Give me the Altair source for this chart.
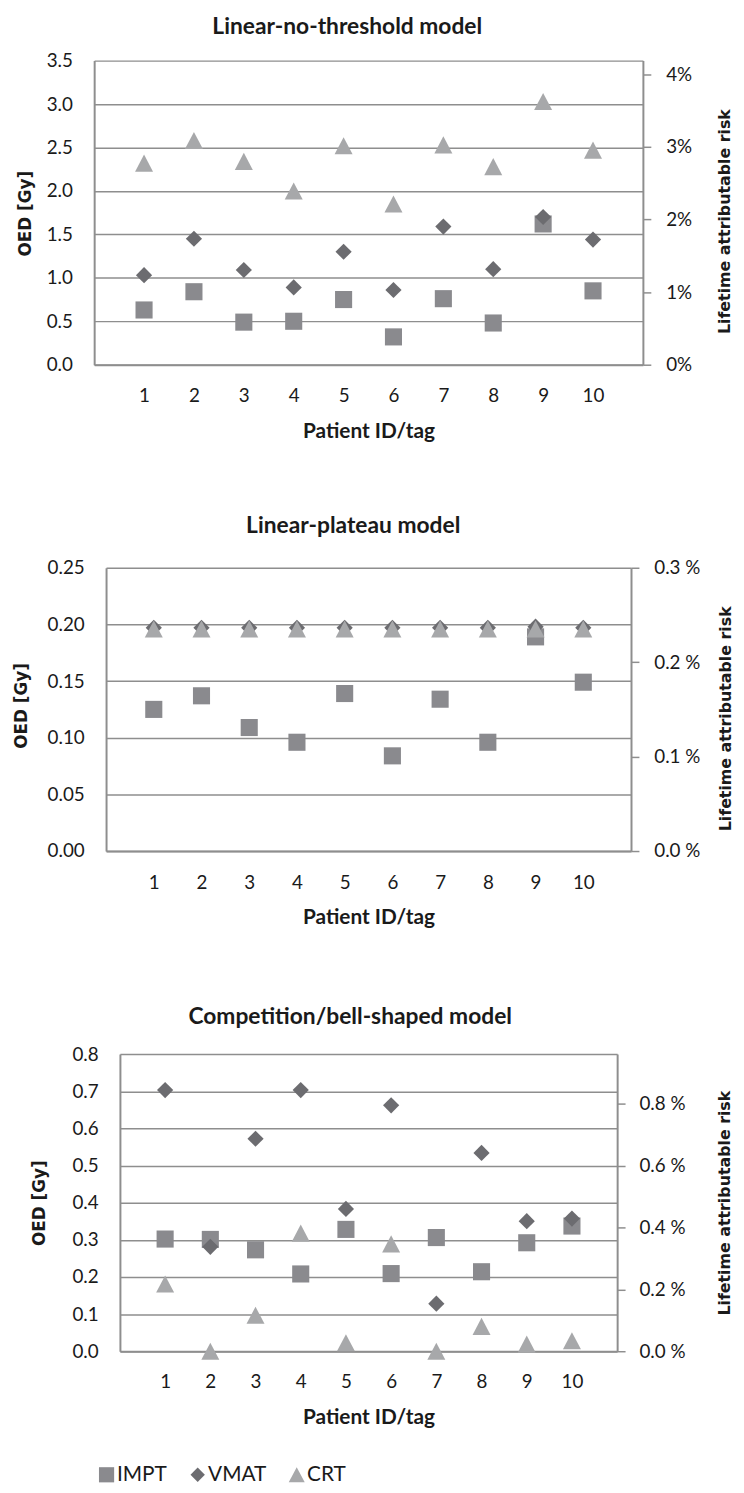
import altair as alt
import pandas as pd

patients = [1, 2, 3, 4, 5, 6, 7, 8, 9, 10]
series_names = ["IMPT", "VMAT", "CRT"]
series_colors = ["#8a8a8e", "#6c6c70", "#a7a8aa"]
series_shapes = [
    "M-0.95,-0.95L0.95,-0.95L0.95,0.95L-0.95,0.95Z",
    "M0,-0.9L0.9,0L0,0.9L-0.9,0Z",
    "M0,-0.95L1,0.95L-1,0.95Z",
]

# Linear-no-threshold model (OED in Gy)
lnt_impt = [0.63, 0.84, 0.49, 0.50, 0.75, 0.32, 0.76, 0.48, 1.62, 0.85]
lnt_vmat = [1.03, 1.45, 1.09, 0.89, 1.30, 0.86, 1.59, 1.10, 1.70, 1.44]
lnt_crt = [2.32, 2.58, 2.34, 2.00, 2.52, 1.85, 2.53, 2.28, 3.03, 2.47]

# Linear-plateau model
lp_impt = [0.125, 0.137, 0.109, 0.096, 0.139, 0.084, 0.134, 0.096, 0.189, 0.149]
lp_vmat = [0.197, 0.197, 0.197, 0.197, 0.197, 0.197, 0.197, 0.197, 0.198, 0.197]
lp_crt = [0.196, 0.196, 0.196, 0.196, 0.196, 0.196, 0.196, 0.196, 0.196, 0.196]

# Competition/bell-shaped model
bell_impt = [0.302, 0.301, 0.273, 0.208, 0.328, 0.209, 0.306, 0.214, 0.292, 0.337]
bell_vmat = [0.703, 0.281, 0.572, 0.703, 0.383, 0.662, 0.128, 0.534, 0.350, 0.357]
bell_crt = [0.181, 0.0, 0.097, 0.318, 0.023, 0.289, 0.0, 0.067, 0.019, 0.028]

# axis tick values
lnt_y_ticks = [0.0, 0.5, 1.0, 1.5, 2.0, 2.5, 3.0, 3.5]
lp_y_ticks = [0.0, 0.05, 0.10, 0.15, 0.20, 0.25]
bell_y_ticks = [0.0, 0.1, 0.2, 0.3, 0.4, 0.5, 0.6, 0.7, 0.8]
lnt_lar_ticks = [0, 1, 2, 3, 4]
lp_lar_ticks = [0.0, 0.1, 0.2, 0.3]
bell_lar_ticks = [0.0, 0.2, 0.4, 0.6, 0.8]

LABEL_FONT = "Lato"
AXIS_TITLE_FONT = "DejaVu Sans"
GRID = "#8e8e8e"
TXT = "#1a1a1a"


def panel(values, title, w, h, y_ticks, y_fmt, lar_ticks, lar_max, lar_expr,
          title_y, title_dx, oed_x, oed_y, lar_x, lar_y, lar_pad,
          x_lab_pad, legend=None):
    rows = []
    for name, vals in zip(series_names, values):
        for p, v in zip(patients, vals):
            rows.append({"patient": p, "value": v, "series": name})
    df = pd.DataFrame(rows)
    x_scale = alt.Scale(domain=[0, 11], nice=False, zero=False)

    x = alt.X(
        "patient:Q",
        scale=x_scale,
        axis=alt.Axis(
            values=patients, format="d", ticks=False, grid=False,
            domainColor=GRID, domainWidth=2,
            labelFont=LABEL_FONT, labelFontSize=19, labelColor=TXT,
            labelPadding=x_lab_pad, labelBaseline="middle",
            title="Patient ID/tag", titleFont=LABEL_FONT, titleFontSize=21,
            titleFontWeight="bold", titleColor=TXT, titleX=w / 2, titleY=73,
            titleAlign="center", titleBaseline="alphabetic",
        ),
    )
    y = alt.Y(
        "value:Q",
        scale=alt.Scale(domain=[0, y_ticks[-1]], nice=False, zero=True),
        axis=alt.Axis(
            values=y_ticks, format=y_fmt, ticks=False, grid=True,
            gridColor=GRID, gridWidth=1.5, domainColor=GRID, domainWidth=2,
            labelFont=LABEL_FONT, labelFontSize=19, labelColor=TXT,
            labelPadding=22,
            title="OED [Gy]", titleFont=AXIS_TITLE_FONT, titleFontSize=17,
            titleFontWeight="bold", titleColor=TXT, titleAngle=270,
            titleX=oed_x, titleY=oed_y, titleAlign="center",
            titleBaseline="middle",
        ),
    )
    color = alt.Color(
        "series:N",
        scale=alt.Scale(domain=series_names, range=series_colors),
        legend=legend,
    )
    shape = alt.Shape(
        "series:N",
        scale=alt.Scale(domain=series_names, range=series_shapes),
        legend=legend,
    )
    pts = alt.Chart(df).mark_point(
        filled=True, opacity=1, size=330, strokeWidth=0
    ).encode(x=x, y=y, color=color, shape=shape)

    lar = alt.Chart(pd.DataFrame({"lar": lar_ticks})).mark_rule(opacity=0).encode(
        y=alt.Y(
            "lar:Q",
            scale=alt.Scale(domain=[0, lar_max], nice=False, zero=True),
            axis=alt.Axis(
                orient="right", values=lar_ticks, labelExpr=lar_expr,
                ticks=True, tickSize=8, tickColor=GRID, tickWidth=1.5,
                grid=False, domainColor=GRID, domainWidth=2,
                labelFont=LABEL_FONT, labelFontSize=19, labelColor=TXT,
                labelPadding=lar_pad,
                title="Lifetime attributable risk", titleFont=AXIS_TITLE_FONT,
                titleFontSize=16, titleFontWeight="bold", titleColor=TXT,
                titleAngle=270, titleX=lar_x, titleY=lar_y,
                titleAlign="center", titleBaseline="middle",
            ),
        )
    )
    # chart heading, carried by an otherwise empty top axis
    head = alt.Chart(pd.DataFrame({"patient": patients})).mark_rule(opacity=0).encode(
        x=alt.X(
            "patient:Q",
            scale=x_scale,
            axis=alt.Axis(
                orient="top", labels=False, ticks=False, domain=False,
                grid=False, title=title, titleFont=LABEL_FONT,
                titleFontSize=23, titleFontWeight="bold", titleColor=TXT,
                titleX=w / 2 + title_dx, titleY=title_y, titleAlign="center",
                titleBaseline="alphabetic",
            ),
        )
    )
    return (
        alt.layer(pts, lar, head)
        .resolve_scale(y="independent")
        .resolve_axis(x="independent")
        .properties(width=w, height=h)
    )


bell_legend = alt.Legend(
    orient="none", legendX=-24, legendY=414, direction="horizontal",
    title=None, labelFont=LABEL_FONT, labelFontSize=21, labelColor=TXT,
    symbolSize=260, symbolStrokeWidth=0, symbolOpacity=1, columnPadding=20,
    labelOffset=0, columns=3,
)

top = panel(
    [lnt_impt, lnt_vmat, lnt_crt], "Linear-no-threshold model", 554, 307,
    lnt_y_ticks, ".1f", lnt_lar_ticks, 4.19,
    "format(datum.value, '.0f') + '%'",
    -27.3, -22, -69, 154, 82, 162, 15, 31,
)
mid = panel(
    [lp_impt, lp_vmat, lp_crt], "Linear-plateau model", 530, 286,
    lp_y_ticks, ".2f", lp_lar_ticks, 0.3,
    "format(datum.value, '.1f') + ' %'",
    -36, -16, -85, 139, 95, 152, 15, 32,
)
bot = panel(
    [bell_impt, bell_vmat, bell_crt], "Competition/bell-shaped model", 502, 300,
    bell_y_ticks, ".1f", bell_lar_ticks, 0.96,
    "format(datum.value, '.1f') + ' %'",
    -30.6, -19, -81, 150, 108, 150, 14, 31, legend=bell_legend,
)

chart = alt.vconcat(top, mid, bot, spacing=205, center=True, bounds="flush").resolve_scale(
    color="independent", shape="independent"
).resolve_legend(color="independent", shape="independent").properties(
    padding={"left": 5, "top": 0, "right": 3, "bottom": 0}
).configure_view(stroke=None)

chart.save("out.html", embed_options={"renderer": "svg", "actions": False})
